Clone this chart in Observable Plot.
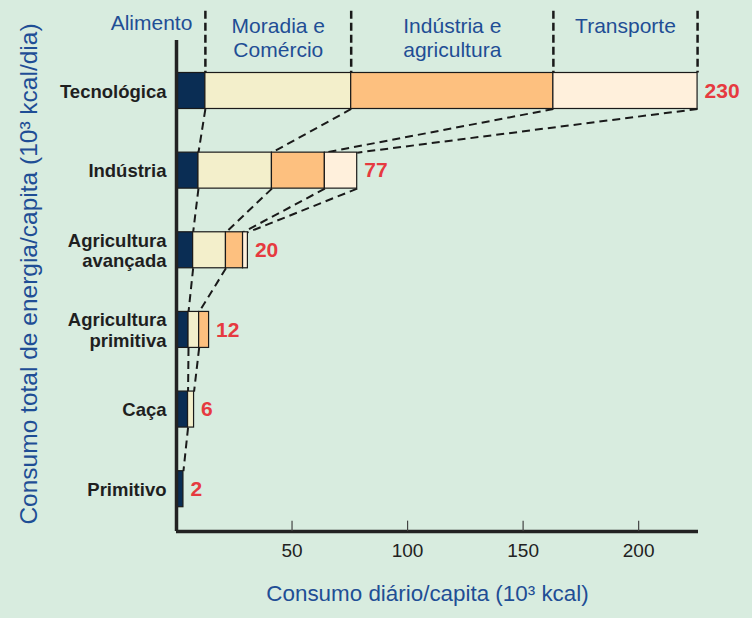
<!DOCTYPE html>
<html>
<head>
<meta charset="utf-8">
<script src="https://cdn.jsdelivr.net/npm/d3@7"></script>
<script src="https://cdn.jsdelivr.net/npm/@observablehq/plot@0.6"></script>
<style>
  html, body { margin: 0; padding: 0; background: #d8ecdf; }
</style>
</head>
<body>
<div id="chart"></div>
<script>
// ---- data ----
const categories = ["Tecnológica", "Indústria", "Agricultura\navançada", "Agricultura\nprimitiva", "Caça", "Primitivo"];
const alimento   = [12.5,  9.5,  7.2, 5.2, 5.0, 3.0];
const moradia    = [63.1, 31.8, 14.2, 4.6, 2.6, 0];
const industria  = [87.5, 22.9,  7.4, 4.3, 0,   0];
const transporte = [62.4, 14.0,  2.1, 0,   0,   0];
const totals     = [230, 77, 20, 12, 6, 2];
const segmentKeys   = ["alimento", "moradia", "industria", "transporte"];
const segmentLabels = ["Alimento", "Moradia e\nComércio", "Indústria e\nagricultura", "Transporte"];
const segmentColors = ["#0a2d54", "#f3efcb", "#fdc07f", "#fff0dc"];
// which segment boundaries are joined by dashed lines between bar i and bar i+1
const connectorSegments = [[0, 1, 2, 3], [0, 1, 2, 3], [0, 1], [0, 1], [0]];
const xTicks = [50, 100, 150, 200];
const xTitle = "Consumo diário/capita (10³ kcal)";
const yTitle = "Consumo total de energia/capita (10³ kcal/dia)";

// ---- layout ----
const xDomain = [0, 225.9];
const yDomain = [-0.634, 5.531];
const half = 0.226;          // half bar thickness (in band units)
const headerTop = -1.0;
const tickLen = 0.13;
const blue = "#1f4e95";

const series = [alimento, moradia, industria, transporte];
const segs = [];
const cumEnd = categories.map(() => []);
categories.forEach((c, i) => {
  let acc = 0;
  series.forEach((arr, s) => {
    const v = arr[i];
    if (v > 0) segs.push({i, key: segmentKeys[s], x1: acc, x2: acc + v});
    acc += v;
    cumEnd[i][s] = acc;
  });
});
const links = [];
connectorSegments.forEach((list, i) => {
  list.forEach(s => links.push({x1: cumEnd[i][s], x2: cumEnd[i + 1][s], y1: i + half, y2: i + 1 - half}));
});
const header = segmentLabels.map((t, s) => ({
  text: t,
  start: s === 0 ? 0 : cumEnd[0][s - 1],
  end: cumEnd[0][s]
}));

const chart = Plot.plot({
  width: 752,
  height: 618,
  marginLeft: 176,
  marginRight: 54,
  marginTop: 40,
  marginBottom: 87,
  x: {domain: xDomain, axis: null},
  y: {domain: yDomain, reverse: true, axis: null},
  color: {domain: segmentKeys, range: segmentColors},
  style: {background: "#d8ecdf", fontFamily: "'Liberation Sans', Arial, sans-serif", overflow: "visible"},
  marks: [
    // dashed header separators
    Plot.ruleX(header, {x: "end", y1: headerTop, y2: -half, stroke: "#1a1a1a", strokeWidth: 2.5, strokeDasharray: "8,4"}),
    // connectors
    Plot.link(links, {x1: "x1", x2: "x2", y1: "y1", y2: "y2", stroke: "#1a1a1a", strokeWidth: 2, strokeDasharray: "8,5"}),
    // bars
    Plot.rect(segs, {x1: "x1", x2: "x2", y1: d => d.i - half, y2: d => d.i + half, fill: "key", stroke: "#1a1a1a", strokeWidth: 1.2}),
    // axes lines
    Plot.ruleX([0], {stroke: "#222", strokeWidth: 3.5}),
    Plot.ruleY([yDomain[1]], {stroke: "#222", strokeWidth: 3.5}),
    Plot.ruleX(xTicks, {y1: yDomain[1], y2: yDomain[1] - tickLen, stroke: "#444", strokeWidth: 1.2}),
    Plot.axisX({ticks: xTicks, tickSize: 0, tickPadding: 12, fontSize: 19, label: null, color: "#222"}),
    // category labels
    Plot.text(categories, {x: 0, y: (d, i) => i, text: d => d, textAnchor: "end", dx: -10, fontSize: 18.5, fontWeight: "bold", lineHeight: 1.13, fill: "#1f1f1f"}),
    // totals
    Plot.text(totals, {x: (d, i) => cumEnd[i][3], y: (d, i) => i, text: d => String(d), textAnchor: "start", dx: 7, fontSize: 21, fontWeight: "bold", fill: "#e63a40"}),
    // header labels
    Plot.text(header.slice(0, 1), {x: "end", frameAnchor: "top", text: "text", textAnchor: "end", dx: -13, dy: -25, lineAnchor: "top", fontSize: 21, fill: blue}),
    Plot.text(header.slice(1), {x: d => (d.start + d.end) / 2, frameAnchor: "top", text: "text", textAnchor: "middle", dy: -25, lineAnchor: "top", lineHeight: 1.16, fontSize: 21, fill: blue}),
    // axis titles
    Plot.text([xTitle], {frameAnchor: "bottom", text: d => d, textAnchor: "middle", lineAnchor: "middle", dx: -10, dy: 62, fontSize: 22.4, fill: blue}),
    Plot.text([yTitle], {frameAnchor: "left", text: d => d, textAnchor: "middle", lineAnchor: "middle", rotate: -90, dx: -147, dy: -12, fontSize: 24.5, fill: blue})
  ]
});
document.getElementById("chart").appendChild(chart);
</script>
</body>
</html>
